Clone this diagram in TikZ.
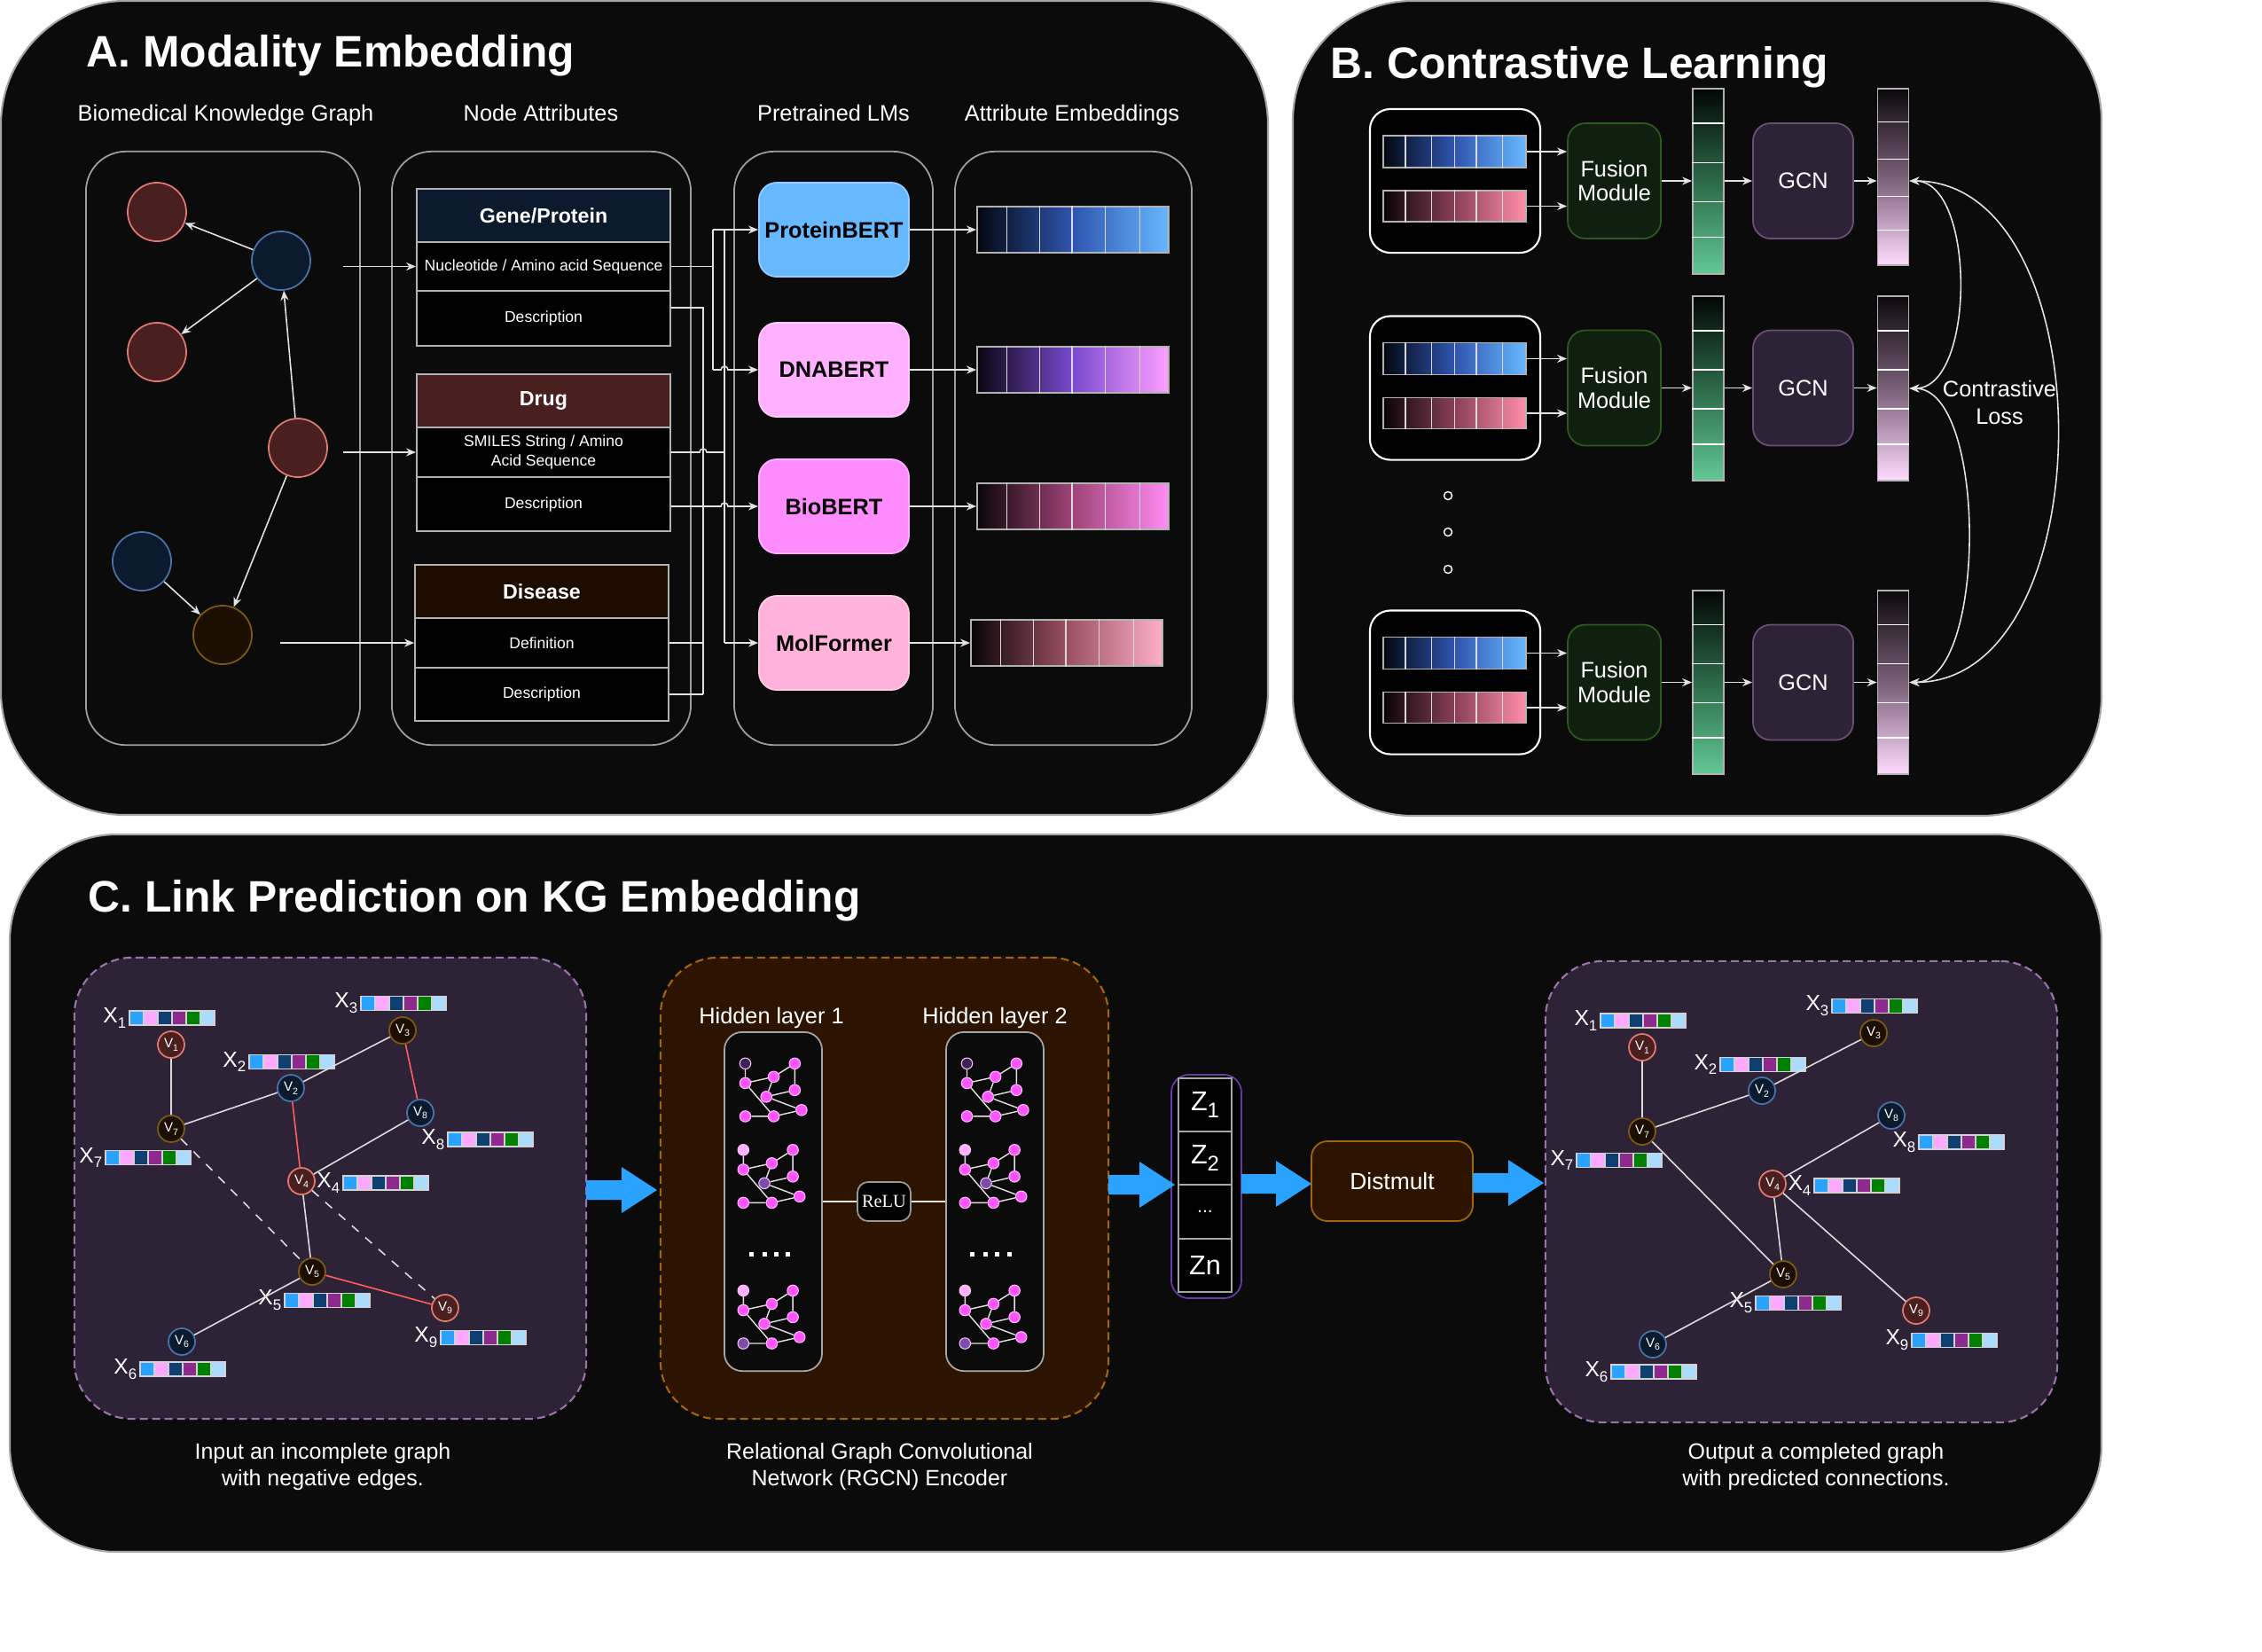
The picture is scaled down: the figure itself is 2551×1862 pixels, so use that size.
\documentclass[tikz,border=0pt]{standalone}
\usepackage{fontspec}
\setmainfont{Liberation Sans}
\newfontfamily\relufont{Liberation Serif}
\usetikzlibrary{arrows.meta,calc}
\definecolor{panelbg}{HTML}{0B0B0B}
\definecolor{linec}{HTML}{E2E2E2}
\definecolor{nred}{HTML}{4A1F1F}
\definecolor{nredb}{HTML}{E07A70}
\definecolor{nblue}{HTML}{0C1A2E}
\definecolor{nblueb}{HTML}{4A72A6}
\definecolor{nbrown}{HTML}{1C0E00}
\definecolor{nbrownb}{HTML}{7C5A12}
\definecolor{hdrgene}{HTML}{0C1A2E}
\definecolor{hdrdrug}{HTML}{4A1F1F}
\definecolor{hdrdis}{HTML}{1C0D00}
\definecolor{lmprot}{HTML}{66B8FF}
\definecolor{lmdna}{HTML}{FFB0FF}
\definecolor{lmbio}{HTML}{FF8CFF}
\definecolor{lmmol}{HTML}{FFB3DA}
\definecolor{eAl}{HTML}{03070F}\definecolor{eAm}{HTML}{2F55B0}\definecolor{eAr}{HTML}{68B8FF}
\definecolor{eBl}{HTML}{0A0612}\definecolor{eBm}{HTML}{7A4AD0}\definecolor{eBr}{HTML}{FFA0FF}
\definecolor{eCl}{HTML}{0A0608}\definecolor{eCm}{HTML}{A04478}\definecolor{eCr}{HTML}{FF8CF5}
\definecolor{eDl}{HTML}{080406}\definecolor{eDm}{HTML}{9A5060}\definecolor{eDr}{HTML}{FFB0C8}
\definecolor{pkl}{HTML}{080406}\definecolor{pkm}{HTML}{8A4058}\definecolor{pkr}{HTML}{FF90A8}
\definecolor{gct}{HTML}{020604}\definecolor{gcm}{HTML}{2C6A48}\definecolor{gcb}{HTML}{62C995}
\definecolor{pct}{HTML}{0C090C}\definecolor{pcm}{HTML}{7A5F78}\definecolor{pcb}{HTML}{FFDCFF}
\definecolor{fusefill}{HTML}{10200F}
\definecolor{fusedraw}{HTML}{2C5A1F}
\definecolor{gcnfill}{HTML}{2E2236}
\definecolor{gcndraw}{HTML}{6B4F78}
\definecolor{gboxfill}{HTML}{2E2236}
\definecolor{gboxdraw}{HTML}{9B72AD}
\definecolor{rfill}{HTML}{2D1400}
\definecolor{rdraw}{HTML}{A2640C}
\definecolor{zdraw}{HTML}{6A3AA8}
\definecolor{barrow}{HTML}{29A3FF}
\definecolor{redge}{HTML}{FF5F5F}
\definecolor{kgline}{HTML}{DCDCDC}
\definecolor{fvA}{HTML}{29A3FF}
\definecolor{fvB}{HTML}{FFA8FF}
\definecolor{fvC}{HTML}{0F3E70}
\definecolor{fvD}{HTML}{8E2A8E}
\definecolor{fvE}{HTML}{008000}
\definecolor{fvF}{HTML}{AADCFF}
\definecolor{mgpink}{HTML}{FF55FF}
\definecolor{mgdark}{HTML}{3B2453}
\definecolor{mglight}{HTML}{FFB3FF}
\definecolor{mgpurp}{HTML}{7A4FA8}

\newcommand\sbs[2]{\raisebox{-0.45ex}{\fontsize{#1}{#1}\selectfont #2}}
\newcommand\vseps[2]{\foreach \fr in {#2}{\draw[sepline] ($(#1.north west)!\fr!(#1.north east)$) -- ($(#1.south west)!\fr!(#1.south east)$);}}
\newcommand\hseps[2]{\foreach \fr in {#2}{\draw[sepw] ($(#1.north west)!\fr!(#1.south west)$) -- ($(#1.north east)!\fr!(#1.south east)$);}}
\newcommand\blockarrow[3]{\fill[barrow] (#1,#3-11) -- (#2-40,#3-11) -- (#2-40,#3-26) -- (#2,#3) -- (#2-40,#3+26) -- (#2-40,#3+11) -- (#1,#3+11) -- cycle;}
\newcommand\xvec[4]{%
  \foreach \colr [count=\kk from 0] in {fvA,fvB,fvC,fvD,fvE,fvF}{%
    \filldraw[fill=\colr, draw=gray!35, line width=0.35pt] (#2+\kk*16,#3-8) rectangle +(16,16);}
  \node[xlab, anchor=east] (#1) at (#2-3,#3) {X\sbs{4.8}{#4}};
}
\newcommand\minig[6]{%
  \begin{scope}[shift={(#2,#3)}]
  \node[mgnode, fill=#4] (#1a) at (0,0) {};
  \node[mgnode] (#1b) at (55.8,0) {};
  \node[mgnode] (#1c) at (0,22.1) {};
  \node[mgnode] (#1d) at (32.1,15) {};
  \node[mgnode] (#1e) at (55.8,30) {};
  \node[mgnode, fill=#5] (#1f) at (23.7,37.5) {};
  \node[mgnode, fill=#6] (#1g) at (0,59.6) {};
  \node[mgnode] (#1h) at (32.1,59.6) {};
  \node[mgnode] (#1i) at (63.4,52.5) {};
  \draw[mgedge] (#1a)--(#1c) (#1c)--(#1d) (#1d)--(#1b) (#1b)--(#1e) (#1d)--(#1f) (#1f)--(#1e) (#1f)--(#1i) (#1c)--(#1h) (#1g)--(#1h) (#1h)--(#1i);
  \end{scope}
}
\newcommand\kgbase[1]{%
  \node[vred] (#1v1) at (193,1178) {V\sbs{3}{1}};
  \node[vblue] (#1v2) at (328,1227) {V\sbs{3}{2}};
  \node[vbrown] (#1v3) at (454,1162) {V\sbs{3}{3}};
  \node[vred] (#1v4) at (340,1332) {V\sbs{3}{4}};
  \node[vbrown] (#1v5) at (352,1434) {V\sbs{3}{5}};
  \node[vblue] (#1v6) at (205,1513) {V\sbs{3}{6}};
  \node[vbrown] (#1v7) at (193,1273) {V\sbs{3}{7}};
  \node[vblue] (#1v8) at (474,1255) {V\sbs{3}{8}};
  \node[vred] (#1v9) at (502,1475) {V\sbs{3}{9}};
  \xvec{#1x1}{146}{1148}{1}
  \xvec{#1x2}{281}{1197.5}{2}
  \xvec{#1x3}{407}{1131.5}{3}
  \xvec{#1x4}{387}{1334}{4}
  \xvec{#1x5}{321}{1466.5}{5}
  \xvec{#1x6}{158}{1544}{6}
  \xvec{#1x7}{119}{1305.5}{7}
  \xvec{#1x8}{505}{1285}{8}
  \xvec{#1x9}{497}{1508.5}{9}
}

\begin{document}
\begin{tikzpicture}[x=0.01cm,y=-0.01cm,
  panelbox/.style={fill=panelbg, draw=gray!70, line width=0.6pt, rounded corners=14mm},
  ibox/.style={draw=gray!75, line width=0.5pt, rounded corners=4.5mm, minimum height=66.9mm, inner sep=0pt},
  lbltext/.style={text=white, inner sep=0pt, font=\fontsize{7.2}{8.6}\selectfont},
  ttl/.style={text=white, inner sep=0pt, anchor=base west, font=\bfseries\fontsize{14.15}{17}\selectfont},
  kgn/.style={circle, minimum size=6.6mm, inner sep=0pt, line width=0.5pt},
  kred/.style={kgn, fill=nred, draw=nredb},
  kblue/.style={kgn, fill=nblue, draw=nblueb},
  kbrown/.style={kgn, fill=nbrown, draw=nbrownb},
  arrw/.style={draw=linec, line width=0.45pt, -{Stealth[length=1.1mm,width=0.9mm]}},
  arrw2/.style={draw=linec, line width=0.45pt, {Stealth[length=1.1mm,width=0.9mm]}-{Stealth[length=1.1mm,width=0.9mm]}},
  ln/.style={draw=linec, line width=0.45pt},
  attrhdr/.style={draw=gray!60, line width=0.5pt, text=white, minimum width=28.6mm, minimum height=6mm, inner sep=0pt, font=\bfseries\fontsize{6.6}{8}\selectfont},
  attrrow/.style={draw=gray!60, fill=black, line width=0.5pt, text=white, minimum width=28.6mm, inner sep=0pt, align=center, font=\fontsize{5}{6.2}\selectfont},
  lmbox/.style={rounded corners=2mm, minimum width=16.9mm, minimum height=10.6mm, inner sep=0pt, font=\bfseries\fontsize{7.2}{8}\selectfont, text=black, line width=0.5pt},
  embbar/.style={draw=gray!60, line width=0.5pt, minimum width=21.6mm, minimum height=5.2mm, inner sep=0pt},
  sepline/.style={draw=gray!30, line width=0.4pt},
  sepw/.style={draw=white, line width=0.4pt},
  inbox/.style={rounded corners=2.3mm, draw=white, fill=black, line width=0.6pt, minimum width=19.2mm, minimum height=16.2mm, inner sep=0pt},
  bbar/.style={draw=gray!60, line width=0.5pt, minimum width=16.1mm, minimum height=3.6mm, inner sep=0pt, left color=eAl, right color=eAr, middle color=eAm},
  pbar/.style={draw=gray!60, line width=0.5pt, minimum width=16.1mm, minimum height=3.5mm, inner sep=0pt, left color=pkl, right color=pkr, middle color=pkm},
  fusebox/.style={fill=fusefill, draw=fusedraw, line width=0.5pt, rounded corners=2mm, minimum width=10.5mm, minimum height=13mm, inner sep=0pt, text=white, align=center, font=\fontsize{7.2}{7.8}\selectfont},
  gcnbox/.style={fill=gcnfill, draw=gcndraw, line width=0.5pt, rounded corners=2mm, minimum width=11.3mm, minimum height=13mm, inner sep=0pt, text=white, font=\fontsize{7.2}{8}\selectfont},
  gcol/.style={draw=gray!60, line width=0.5pt, minimum width=3.5mm, inner sep=0pt, top color=gct, bottom color=gcb, middle color=gcm},
  pcol/.style={draw=gray!60, line width=0.5pt, minimum width=3.5mm, inner sep=0pt, top color=pct, bottom color=pcb, middle color=pcm},
  dotc/.style={circle, draw=white, minimum size=0.9mm, inner sep=0pt, line width=0.4pt},
  gbox/.style={fill=gboxfill, draw=gboxdraw, line width=0.6pt, dash pattern=on 0.9mm off 0.5mm, rounded corners=6.5mm, minimum width=57.7mm, minimum height=52mm, inner sep=0pt},
  rbox/.style={fill=rfill, draw=rdraw, line width=0.6pt, dash pattern=on 0.9mm off 0.5mm, rounded corners=6.5mm, minimum width=50.5mm, minimum height=52mm, inner sep=0pt},
  hlbox/.style={fill=panelbg, draw=gray!70, line width=0.5pt, rounded corners=2mm, minimum width=11mm, minimum height=38.2mm, inner sep=0pt},
  relubox/.style={fill=black, draw=gray!80, line width=0.5pt, rounded corners=1.2mm, minimum width=6mm, minimum height=4.4mm, inner sep=0pt, text=white, font=\relufont\fontsize{5.8}{7}\selectfont},
  mgnode/.style={circle, minimum size=1.25mm, inner sep=0pt, fill=mgpink, draw=white!60!mgpink, line width=0.3pt},
  mgedge/.style={draw=linec, line width=0.4pt},
  vnode/.style={circle, minimum size=3mm, inner sep=0pt, line width=0.5pt, text=white, font=\fontsize{4.3}{4.3}\selectfont},
  vred/.style={vnode, fill=nred, draw=nredb},
  vblue/.style={vnode, fill=nblue, draw=nblueb},
  vbrown/.style={vnode, fill=nbrown, draw=nbrownb},
  xlab/.style={text=white, inner sep=0pt, font=\fontsize{7}{7}\selectfont},
  kge/.style={draw=kgline, line width=0.45pt},
  kgr/.style={draw=redge, line width=0.45pt},
  kgd/.style={draw=kgline, line width=0.45pt, dash pattern=on 1mm off 1mm},
  zouter/.style={draw=zdraw, fill=black, line width=0.5pt, rounded corners=2mm, minimum width=7.9mm, minimum height=25.2mm, inner sep=0pt},
  zcell/.style={draw=gray!70, fill=black, line width=0.5pt, minimum width=6mm, minimum height=6mm, inner sep=0pt, text=white, font=\fontsize{8.7}{9}\selectfont},
  distbox/.style={fill=rfill, draw=rdraw, line width=0.5pt, rounded corners=1.8mm, minimum width=18.2mm, minimum height=9mm, inner sep=0pt, text=white, font=\fontsize{7.5}{9}\selectfont},
  capt/.style={text=white, inner sep=0pt, align=center, font=\fontsize{7.1}{8.5}\selectfont}
]
\useasboundingbox (0,0) rectangle (2551,1862);
\fill[white] (0,0) rectangle (2551,1862);

% ---------------- panels
\path[panelbox] (1,1) rectangle (1430,919);
\path[panelbox, rounded corners=13.5mm] (1458,1) rectangle (2370,920);
\path[panelbox, rounded corners=12mm] (11,941) rectangle (2370,1750);

\node[ttl] (tA) at (97,75) {A. Modality Embedding};
\node[ttl] (tB) at (1500,88) {B. Contrastive Learning};
\node[ttl] (tC) at (99,1028) {C. Link Prediction on KG Embedding};

% ---------------- Panel A
\node[lbltext, anchor=base west] (hKG) at (87,136) {Biomedical Knowledge Graph};
\node[lbltext, anchor=base] (hNA) at (610,136) {Node Attributes};
\node[lbltext, anchor=base] (hLM) at (940,136) {Pretrained LMs};
\node[lbltext, anchor=base] (hAE) at (1209,136) {Attribute Embeddings};

\node[ibox, minimum width=30.9mm] (bKG) at (251.5,505.5) {};
\node[ibox, minimum width=33.7mm] (bNA) at (610.5,505.5) {};
\node[ibox, minimum width=22.4mm] (bLM) at (940,505.5) {};
\node[ibox, minimum width=26.7mm] (bAE) at (1210.5,505.5) {};

\node[kred] (kr1) at (177,239) {};
\node[kblue] (kb1) at (317,294) {};
\node[kred] (kr2) at (177,397) {};
\node[kred] (kr3) at (336,505) {};
\node[kblue] (kb2) at (160,633) {};
\node[kbrown] (kbr) at (251,716) {};
\draw[arrw] (kb1) -- (kr1);
\draw[arrw] (kb1) -- (kr2);
\draw[arrw] (kr3) -- (kb1);
\draw[arrw] (kr3) -- (kbr);
\draw[arrw] (kb2) -- (kbr);

\node[attrhdr, fill=hdrgene] (aGH) at (613,243) {Gene/Protein};
\node[attrrow, minimum height=5.5mm] (aNuc) at (613,300.5) {Nucleotide / Amino acid Sequence};
\node[attrrow, minimum height=6.2mm] (aGD) at (613,359) {Description};
\node[attrhdr, fill=hdrdrug] (aDH) at (613,452) {Drug};
\node[attrrow, minimum height=5.6mm] (aSM) at (613,510) {SMILES String / Amino\\Acid Sequence};
\node[attrrow, minimum height=6.1mm] (aDD) at (613,568.5) {Description};
\node[attrhdr, fill=hdrdis] (aSH) at (611,667) {Disease};
\node[attrrow, minimum height=5.6mm] (aDef) at (611,725) {Definition};
\node[attrrow, minimum height=6mm] (aSD) at (611,783) {Description};

\coordinate (g2a1) at (387,300.5);
\coordinate (g2a2) at (387,510);
\coordinate (g2a3) at (316,725);
\draw[arrw] (g2a1) -- (aNuc.west);
\draw[arrw] (g2a2) -- (aSM.west);
\draw[arrw] (g2a3) -- (aDef.west);

\node[lmbox, fill=lmprot, draw=lmprot!70!white] (lm1) at (940.5,259) {ProteinBERT};
\node[lmbox, fill=lmdna, draw=lmdna!70!white] (lm2) at (940.5,417) {DNABERT};
\node[lmbox, fill=lmbio, draw=lmbio!70!white] (lm3) at (940.5,571) {BioBERT};
\node[lmbox, fill=lmmol, draw=lmmol!70!white] (lm4) at (940.5,725) {MolFormer};

\node[embbar, left color=eAl, right color=eAr, middle color=eAm] (e1) at (1210,259) {};
\node[embbar, left color=eBl, right color=eBr, middle color=eBm] (e2) at (1210,417) {};
\node[embbar, left color=eCl, right color=eCr, middle color=eCm] (e3) at (1210,571) {};
\node[embbar, left color=eDl, right color=eDr, middle color=eDm] (e4) at (1203,725) {};
\vseps{e1}{0.157,0.329,0.495,0.667,0.847}
\vseps{e2}{0.157,0.329,0.495,0.667,0.847}
\vseps{e3}{0.157,0.329,0.495,0.667,0.847}
\vseps{e4}{0.157,0.329,0.495,0.667,0.847}
\draw[arrw] (lm1.east) -- (e1.west);
\draw[arrw] (lm2.east) -- (e2.west);
\draw[arrw] (lm3.east) -- (e3.west);
\draw[arrw] (lm4.east) -- (e4.west);

% buses
\coordinate (b1t) at (804,259); \coordinate (b1b) at (804,417);
\draw[ln] (aNuc.east) -- (aNuc.east -| b1t);
\draw[ln] (b1t) -- (b1b);
\draw[arrw] (b1t) -- (lm1.west);
\draw[arrw] (b1b) -- (813,417) arc[start angle=180,end angle=0,radius=0.4mm] -- (lm2.west);

\coordinate (b2t) at (793,347); \coordinate (b2b) at (793,783);
\draw[ln] ([yshift=1.2mm]aGD.east) -- (b2t) -- (b2b);
\draw[ln] (aDef.east) -- (aDef.east -| b2t);
\draw[ln] (aSD.east) -- (aSD.east -| b2t);
\draw[arrw] (aDD.east |- lm3.west) -- (813,571) arc[start angle=180,end angle=0,radius=0.4mm] -- (lm3.west);

\coordinate (b3t) at (817,259); \coordinate (b3b) at (817,725);
\draw[ln] (b3t) -- (b3b);
\draw[ln] (aSM.east) -- (789,510) arc[start angle=180,end angle=0,radius=0.4mm] -- (aSM.east -| b3t);
\draw[arrw] (b3b) -- (lm4.west);

% ---------------- Panel B
\foreach \rr/\yc/\yb/\yp/\ycol/\hcol/\ypc/\hpc in {1/204/171/232.5/204.5/20.9/199.5/19.9, 2/437.5/404.5/466/438/20.8/438/20.8, 3/769.5/736.5/798/769.5/20.7/769.5/20.7}{
  \node[inbox] (in\rr) at (1641,\yc) {};
  \node[bbar] (bb\rr) at (1640.5,\yb) {};
  \node[pbar] (pb\rr) at (1640.5,\yp) {};
  \node[fusebox] (fu\rr) at (1820.5,\yc) {Fusion\\Module};
  \node[gcol, minimum height=\hcol mm] (gc\rr) at (1926.5,\ycol) {};
  \node[gcnbox] (gn\rr) at (2033.5,\yc) {GCN};
  \node[pcol, minimum height=\hpc mm] (pc\rr) at (2135,\ypc) {};
  \vseps{bb\rr}{0.16,0.34,0.50,0.65,0.83}
  \vseps{pb\rr}{0.16,0.34,0.50,0.65,0.83}
  \hseps{gc\rr}{0.19,0.40,0.61,0.80}
  \hseps{pc\rr}{0.19,0.40,0.61,0.80}
  \draw[arrw] (bb\rr.east) -- (bb\rr.east -| fu\rr.west);
  \draw[arrw] (pb\rr.east) -- (pb\rr.east -| fu\rr.west);
  \draw[arrw] (fu\rr.east) -- (fu\rr.east -| gc\rr.west);
  \draw[arrw] (gc\rr.east |- gn\rr.west) -- (gn\rr.west);
  \draw[arrw] (gn\rr.east) -- (gn\rr.east -| pc\rr.west);
}
\node[dotc] (dt1) at (1633,559) {};
\node[dotc] (dt2) at (1633,600) {};
\node[dotc] (dt3) at (1633,642) {};

\coordinate (cp1) at (pc1.east |- gn1.east);
\draw[arrw2] (cp1) .. controls +(75,0) and +(75,0) .. (pc2.east);
\draw[arrw2] (pc2.east) .. controls +(88,0) and +(88,0) .. (pc3.east);
\draw[arrw2] (cp1) .. controls +(222,0) and +(222,0) .. (pc3.east);
\node[lbltext, align=center] (cl) at (2255,454) {Contrastive\\Loss};

% ---------------- Panel C
\node[gbox] (gin) at (372.5,1340) {};
\node[gbox] (gout) at (2031.5,1344) {};
\node[rbox] (rg) at (997.5,1340) {};
\node[hlbox] (hl1) at (872,1355) {};
\node[hlbox] (hl2) at (1122,1355) {};
\node[relubox] (relu) at (997,1355) {ReLU};
\draw[ln] (hl1.east) -- (relu.west);
\draw[ln] (relu.east) -- (hl2.west);
\node[lbltext, anchor=base] (hh1) at (870,1154) {Hidden layer 1};
\node[lbltext, anchor=base] (hh2) at (1122,1154) {Hidden layer 2};

\minig{ma}{840.5}{1199.3}{mgdark}{mgpink}{mgpink}
\minig{mb}{838.3}{1296.8}{mglight}{mgpurp}{mgpink}
\minig{mc}{838.3}{1455.4}{mglight}{mgpink}{mgpurp}
\minig{md}{1090.5}{1199.3}{mgdark}{mgpink}{mgpink}
\minig{me}{1088.3}{1296.8}{mglight}{mgpurp}{mgpink}
\minig{mf}{1088.3}{1455.4}{mglight}{mgpink}{mgpurp}
\foreach \xx in {847,862,875,888,1096,1111,1124,1138}{\fill[white] (\xx-2.5,1412) rectangle +(5,5);}

\node[zouter] (zo) at (1360.5,1338) {};
\node[zcell] (z1) at (1359,1246) {Z\sbs{6.8}{1}};
\node[zcell] (z2) at (1359,1306) {Z\sbs{6.8}{2}};
\node[zcell] (z3) at (1359,1366.5) {\fontsize{6}{6}\selectfont ...};
\node[zcell] (z4) at (1359,1427) {Zn};

\node[distbox] (dm) at (1570,1332) {Distmult};

\blockarrow{661}{741}{1342}
\blockarrow{1250}{1325}{1336}
\blockarrow{1400}{1479}{1335}
\blockarrow{1661}{1741}{1334}

\kgbase{i}
\draw[kge] (iv1) -- (iv7) (iv7) -- (iv2) (iv2) -- (iv3) (iv8) -- (iv4) (iv4) -- (iv5) (iv5) -- (iv6);
\draw[kgr] (iv3) -- (iv8) (iv2) -- (iv4) (iv5) -- (iv9);
\draw[kgd] (iv7) -- (iv5) (iv4) -- (iv9);

\begin{scope}[shift={(1659,3)}]
\kgbase{o}
\end{scope}
\draw[kge] (ov1) -- (ov7) (ov7) -- (ov2) (ov2) -- (ov3) (ov8) -- (ov4) (ov4) -- (ov5) (ov5) -- (ov6) (ov7) -- (ov5) (ov4) -- (ov9);

\node[capt] (c1) at (364,1654) {Input an incomplete graph\\with negative edges.};
\node[capt] (c2) at (992,1654) {Relational Graph Convolutional\\Network (RGCN) Encoder};
\node[capt] (c3) at (2048,1654) {Output a completed graph\\with predicted connections.};
\end{tikzpicture}
\end{document}
